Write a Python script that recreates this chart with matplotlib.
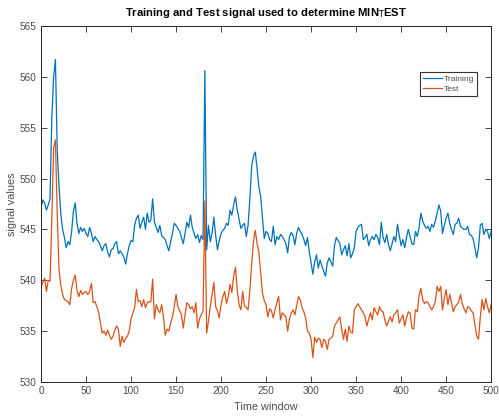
"""Training vs test signal (MIN_TEST selection), MATLAB-style line chart."""
import numpy as np
import matplotlib

matplotlib.use("Agg")
import matplotlib.pyplot as plt  # noqa: E402

plt.rcParams["font.family"] = ["Liberation Sans", "DejaVu Sans"]

time_window = np.arange(0, 501, 2)

training = [
    547.1, 547.9, 547.6, 546.9, 547.4, 548.0, 556.0, 560.0, 561.7, 552.8,
    549.2, 546.5, 545.0, 544.2, 543.2, 543.8, 543.5, 544.8, 546.8, 547.6,
    545.6, 544.6, 545.2, 544.8, 545.1, 544.6, 544.3, 545.2, 544.6, 543.8,
    544.3, 544.0, 543.8, 543.4, 542.9, 543.4, 543.6, 542.8, 542.3, 543.0,
    543.1, 543.6, 543.8, 542.6, 542.9, 542.6, 542.3, 541.6, 542.6, 543.4,
    543.9, 543.8, 545.4, 546.1, 546.4, 545.1, 545.7, 546.2, 545.0, 546.6,
    545.7, 545.9, 548.0, 545.7, 545.2, 544.7, 545.4, 544.4, 544.2, 544.0,
    543.4, 542.9, 543.8, 544.6, 545.6, 545.4, 545.1, 544.8, 544.2, 543.6,
    544.6, 545.7, 545.2, 546.4, 545.2, 544.6, 544.1, 544.5, 543.7, 544.4,
    544.0, 560.6, 543.0, 545.4, 543.8, 544.6, 546.2, 544.4, 543.0, 543.9,
    544.6, 544.9, 545.1, 545.6, 545.4, 546.9, 546.4, 547.4, 548.2, 546.9,
    546.0, 545.1, 545.4, 545.6, 544.3, 545.4, 548.0, 551.2, 552.2, 552.6,
    551.0, 549.2, 548.2, 546.2, 544.1, 544.8, 544.6, 544.0, 543.8, 545.3,
    543.5, 544.3, 544.0, 544.5, 544.3, 544.0, 543.6, 542.7, 544.3, 544.7,
    544.4, 543.5, 544.6, 545.2, 544.8, 544.5, 544.0, 543.4, 544.2, 542.8,
    541.7, 540.6, 541.8, 542.5, 541.2, 542.0, 541.4, 540.9, 540.4, 541.7,
    542.2, 541.8, 541.4, 543.4, 544.2, 543.9, 543.6, 542.5, 543.0, 543.4,
    542.4, 543.6, 542.2, 542.6, 543.2, 544.8, 545.2, 545.4, 545.5, 544.0,
    544.2, 544.5, 543.4, 544.0, 544.3, 544.0, 544.5, 544.2, 543.5, 545.7,
    544.2, 543.7, 544.5, 543.5, 542.9, 543.6, 544.3, 543.8, 545.5, 544.4,
    543.4, 544.0, 543.2, 544.2, 545.0, 544.3, 543.6, 543.5, 544.8, 544.3,
    545.2, 546.6, 545.8, 545.4, 545.1, 545.3, 544.8, 545.5, 545.2, 545.8,
    546.6, 547.4, 546.8, 544.6, 545.4, 546.1, 546.6, 545.6, 545.0, 544.5,
    545.5, 545.6, 546.1, 545.3, 545.1, 545.0, 545.0, 545.3, 544.5, 544.4,
    544.1, 543.2, 542.2, 543.2, 545.4, 545.6, 544.5, 545.0, 544.8, 544.1,
    544.8,
]

test = [
    539.4, 539.8, 540.2, 538.9, 540.0, 539.9, 546.0, 553.0, 553.8, 546.5,
    541.0, 539.5, 538.6, 538.1, 538.0, 537.9, 537.6, 539.2, 540.0, 540.5,
    539.0, 538.4, 539.0, 538.6, 538.8, 538.9, 538.6, 538.9, 539.7, 537.8,
    537.9, 537.4, 536.9, 535.8, 534.8, 535.0, 534.6, 535.1, 534.6, 534.2,
    534.5, 535.1, 535.5, 535.2, 533.5, 534.5, 533.9, 534.3, 534.5, 535.0,
    536.2, 536.8, 537.3, 539.1, 537.9, 538.0, 537.4, 538.1, 537.3, 537.8,
    537.9, 537.9, 540.1, 536.2, 537.6, 537.1, 536.8, 537.6, 536.4, 534.6,
    535.2, 535.0, 535.8, 536.4, 537.4, 538.6, 537.4, 537.0, 536.6, 535.3,
    536.6, 537.8, 537.6, 537.2, 537.4, 536.8, 537.8, 535.3, 536.2, 536.6,
    537.0, 547.8, 534.8, 536.0, 537.4, 538.6, 539.8, 537.4, 537.0, 536.3,
    537.6, 538.4, 538.9, 537.7, 538.4, 539.6, 538.8, 540.4, 541.3, 539.0,
    537.6, 537.1, 538.9, 537.5, 537.3, 537.1, 539.0, 541.6, 543.8, 544.9,
    543.6, 542.8, 540.8, 538.7, 538.0, 537.6, 536.4, 537.2, 537.0, 536.3,
    537.1, 537.8, 538.4, 536.1, 536.8, 536.6, 536.4, 535.0, 536.2, 536.8,
    537.1, 536.6, 537.5, 538.4, 538.1, 537.3, 536.9, 536.3, 535.0, 534.8,
    534.2, 532.4, 534.4, 533.9, 534.3, 534.2, 533.4, 534.2, 534.0, 533.2,
    534.2, 534.3, 534.5, 535.5, 535.8, 536.1, 536.4, 535.2, 534.2, 535.2,
    534.0, 535.5, 534.9, 534.8, 537.1, 537.4, 537.7, 537.4, 537.1, 536.8,
    536.4, 535.5, 536.2, 536.8, 536.1, 537.3, 536.9, 536.6, 537.4, 537.0,
    536.9, 536.1, 535.5, 536.0, 536.4, 535.9, 536.6, 536.8, 537.1, 535.8,
    536.2, 536.6, 535.5, 536.3, 536.9, 536.8, 535.3, 535.2, 537.1, 536.9,
    538.5, 539.2, 538.1, 537.7, 537.9, 537.8, 537.4, 537.1, 537.4, 537.9,
    539.4, 538.9, 539.4, 537.1, 538.2, 539.1, 537.6, 538.6, 537.8, 536.9,
    537.4, 537.6, 537.9, 538.6, 537.7, 537.2, 536.8, 537.4, 537.3, 537.0,
    536.8, 535.6, 534.5, 534.2, 536.4, 538.1, 537.1, 538.2, 537.4, 536.8,
    537.6,
]

x_ticks = [0, 50, 100, 150, 200, 250, 300, 350, 400, 450, 500]
y_ticks = [530, 535, 540, 545, 550, 555, 560, 565]

AX_GREY = "#262626"
TICK_GREY = "#4d4d4d"

fig = plt.figure(figsize=(4.99, 4.16), dpi=100)
ax = fig.add_axes([0.0822, 0.0817, 0.902, 0.856])

ax.plot(time_window, training, color="#0072BD", lw=0.9, label="Training")
ax.plot(time_window, test, color="#D95319", lw=0.9, label="Test")

ax.set_xlim(0, 500)
ax.set_ylim(530, 565)
ax.set_xticks(x_ticks)
ax.set_yticks(y_ticks)
ax.tick_params(direction="in", top=True, right=True, length=4, width=0.6,
               labelsize=7.2, colors=AX_GREY, labelcolor=TICK_GREY, pad=3)
for sp in ax.spines.values():
    sp.set_color(AX_GREY)
    sp.set_linewidth(0.7)

ax.set_xlabel("Time window", fontsize=7.8, color=TICK_GREY, labelpad=4)
ax.set_ylabel("signal values", fontsize=7.8, color=TICK_GREY, labelpad=2)
ax.set_title(r"Training and Test signal used to determine MIN$_{\mathrm{T}}$EST",
             fontsize=8.1, fontweight="bold", pad=7)

leg = ax.legend(loc="upper right", bbox_to_anchor=(0.969, 0.871), fontsize=6.0,
                frameon=True, fancybox=False, handlelength=2.3, handletextpad=0.2,
                borderpad=0.35, labelspacing=0.35, borderaxespad=0)
leg.get_frame().set_edgecolor("black")
leg.get_frame().set_linewidth(0.8)
for t in leg.get_texts():
    t.set_color(TICK_GREY)

fig.savefig("out.png", dpi=100)
